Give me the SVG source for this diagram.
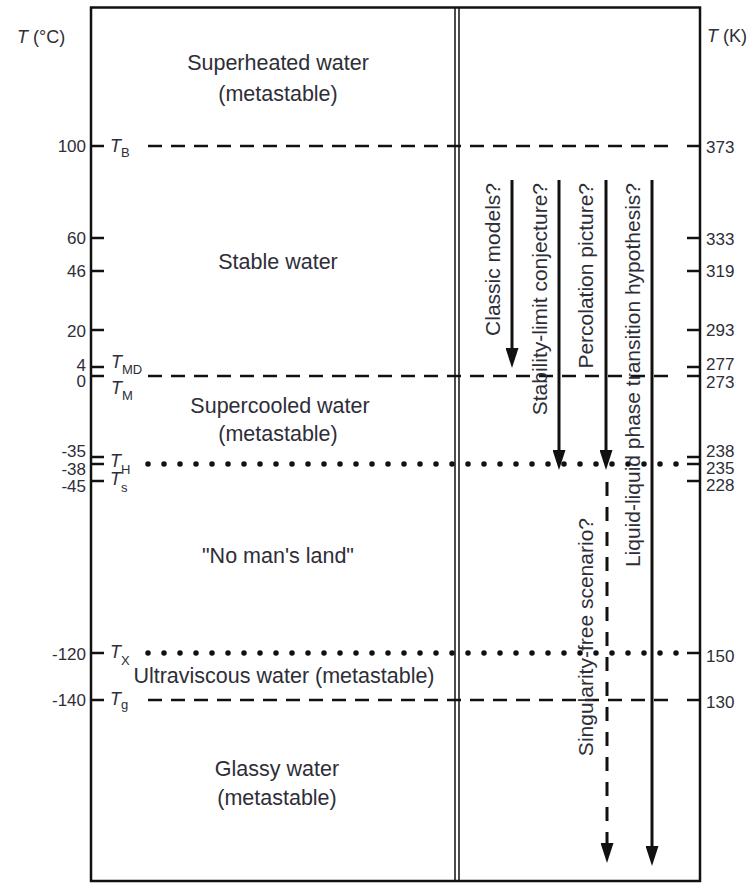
<svg xmlns="http://www.w3.org/2000/svg" width="754" height="884" viewBox="0 0 754 884">
<defs>
<style>
.t{font-family:"Liberation Sans",Arial,sans-serif;fill:#2e2e38}
.reg{font-size:21.5px;text-anchor:middle}
.tk{font-size:17px}
.l{text-anchor:end}
.sym{font-size:18px}
.it{font-style:italic}
.sub{font-size:13px;font-style:normal}
.vl{font-size:21px;text-anchor:end}
.frame{fill:none;stroke:#111;stroke-width:2.5}
.mid{stroke:#111;stroke-width:1.5}
.dash{stroke:#111;stroke-width:2.5;stroke-dasharray:14 9;fill:none}
.dot{stroke:#111;stroke-width:5.5;stroke-linecap:round;stroke-dasharray:0 16;fill:none}
.tick{stroke:#111;stroke-width:2.5}
.arr{stroke:#111;stroke-width:3;fill:none}
.arrd{stroke:#111;stroke-width:3;fill:none;stroke-dasharray:14 11}
</style>
<marker id="ah" viewBox="0 0 20 13" refX="10" refY="6.5" markerWidth="20" markerHeight="13" markerUnits="userSpaceOnUse" orient="auto">
<path d="M0,0 L20,6.5 L0,13 z" fill="#111"/>
</marker>
</defs>
<rect width="754" height="884" fill="#fff"/>

<g id="frame">
<rect class="frame" x="91" y="7.5" width="609" height="873.5"/>
<line class="mid" x1="455" y1="7" x2="455" y2="882"/>
<line class="mid" x1="459" y1="7" x2="459" y2="882"/>
</g>

<g id="ticks">
<line class="tick" x1="91" y1="146" x2="104" y2="146"/>
<line class="tick" x1="91" y1="238" x2="104" y2="238"/>
<line class="tick" x1="91" y1="271" x2="104" y2="271"/>
<line class="tick" x1="91" y1="330" x2="104" y2="330"/>
<line class="tick" x1="91" y1="367" x2="104" y2="367"/>
<line class="tick" x1="91" y1="376" x2="104" y2="376"/>
<line class="tick" x1="91" y1="457" x2="104" y2="457"/>
<line class="tick" x1="91" y1="464" x2="104" y2="464"/>
<line class="tick" x1="91" y1="481" x2="104" y2="481"/>
<line class="tick" x1="91" y1="653" x2="104" y2="653"/>
<line class="tick" x1="91" y1="700" x2="104" y2="700"/>
<line class="tick" x1="687" y1="146" x2="700" y2="146"/>
<line class="tick" x1="687" y1="238" x2="700" y2="238"/>
<line class="tick" x1="687" y1="271" x2="700" y2="271"/>
<line class="tick" x1="687" y1="330" x2="700" y2="330"/>
<line class="tick" x1="687" y1="367" x2="700" y2="367"/>
<line class="tick" x1="687" y1="376" x2="700" y2="376"/>
<line class="tick" x1="687" y1="457" x2="700" y2="457"/>
<line class="tick" x1="687" y1="464" x2="700" y2="464"/>
<line class="tick" x1="687" y1="481" x2="700" y2="481"/>
<line class="tick" x1="687" y1="653" x2="700" y2="653"/>
<line class="tick" x1="687" y1="700" x2="700" y2="700"/>
</g>

<g id="levels">
<line class="dash" x1="148" y1="146" x2="676" y2="146"/>
<line class="dash" x1="148" y1="376" x2="676" y2="376"/>
<line class="dash" x1="148" y1="700" x2="676" y2="700"/>
<line class="dot" x1="148" y1="464" x2="680" y2="464"/>
<line class="dot" x1="148" y1="653" x2="680" y2="653"/>
</g>

<g id="axis-left">
<text class="t sym" x="17" y="43"><tspan class="it">T</tspan> (°C)</text>
<text class="t tk l" x="86" y="152">100</text>
<text class="t tk l" x="86" y="244">60</text>
<text class="t tk l" x="86" y="277">46</text>
<text class="t tk l" x="86" y="337">20</text>
<text class="t tk l" x="86" y="371">4</text>
<text class="t tk l" x="86" y="387">0</text>
<text class="t tk l" x="86" y="457">-35</text>
<text class="t tk l" x="86" y="475">-38</text>
<text class="t tk l" x="86" y="492">-45</text>
<text class="t tk l" x="86" y="660">-120</text>
<text class="t tk l" x="86" y="706">-140</text>
</g>

<g id="axis-right">
<text class="t sym" x="707" y="42"><tspan class="it">T</tspan> (K)</text>
<text class="t tk" x="706" y="153">373</text>
<text class="t tk" x="706" y="245">333</text>
<text class="t tk" x="706" y="277">319</text>
<text class="t tk" x="706" y="336">293</text>
<text class="t tk" x="706" y="370">277</text>
<text class="t tk" x="706" y="388">273</text>
<text class="t tk" x="706" y="457">238</text>
<text class="t tk" x="706" y="474">235</text>
<text class="t tk" x="706" y="491">228</text>
<text class="t tk" x="706" y="662">150</text>
<text class="t tk" x="706" y="708">130</text>
</g>

<g id="symbols">
<text class="t sym" x="110" y="152"><tspan class="it">T</tspan><tspan class="sub" dy="5">B</tspan></text>
<text class="t sym" x="111" y="368"><tspan class="it">T</tspan><tspan class="sub" dy="6">MD</tspan></text>
<text class="t sym" x="111" y="394"><tspan class="it">T</tspan><tspan class="sub" dy="6">M</tspan></text>
<text class="t sym" x="110" y="467"><tspan class="it">T</tspan><tspan class="sub" dy="7">H</tspan></text>
<text class="t sym" x="110" y="485"><tspan class="it">T</tspan><tspan class="sub" dy="7">s</tspan></text>
<text class="t sym" x="110" y="658"><tspan class="it">T</tspan><tspan class="sub" dy="7">X</tspan></text>
<text class="t sym" x="110" y="705"><tspan class="it">T</tspan><tspan class="sub" dy="4">g</tspan></text>
</g>

<g id="superheated"><text class="t reg" x="278" y="70">Superheated water</text><text class="t reg" x="278" y="101">(metastable)</text></g>
<g id="stable"><text class="t reg" x="278" y="269">Stable water</text></g>
<g id="supercooled"><text class="t reg" x="280" y="413">Supercooled water</text><text class="t reg" x="278" y="441">(metastable)</text></g>
<g id="nomansland"><text class="t reg" x="278" y="563">"No man's land"</text></g>
<g id="ultraviscous"><text class="t reg" x="284" y="683">Ultraviscous water (metastable)</text></g>
<g id="glassy"><text class="t reg" x="277" y="776">Glassy water</text><text class="t reg" x="277" y="805">(metastable)</text></g>

<g id="connectors">
<line class="arr" x1="512" y1="180" x2="512" y2="358" marker-end="url(#ah)"/>
<line class="arr" x1="559" y1="180" x2="559" y2="460" marker-end="url(#ah)"/>
<line class="arr" x1="606" y1="180" x2="606" y2="460" marker-end="url(#ah)"/>
<line class="arr" x1="652" y1="180" x2="652" y2="856" marker-end="url(#ah)"/>
<line class="arrd" x1="607" y1="482" x2="607" y2="853" marker-end="url(#ah)"/>
</g>

<g id="arrow-labels">
<text class="t vl" transform="translate(500,183) rotate(-90)">Classic models?</text>
<text class="t vl" transform="translate(547,183) rotate(-90)">Stability-limit conjecture?</text>
<text class="t vl" transform="translate(593,183) rotate(-90)">Percolation picture?</text>
<text class="t vl" transform="translate(640,183) rotate(-90)">Liquid-liquid phase transition hypothesis?</text>
<text class="t vl" transform="translate(593,518) rotate(-90)">Singularity-free scenario?</text>
</g>
</svg>
